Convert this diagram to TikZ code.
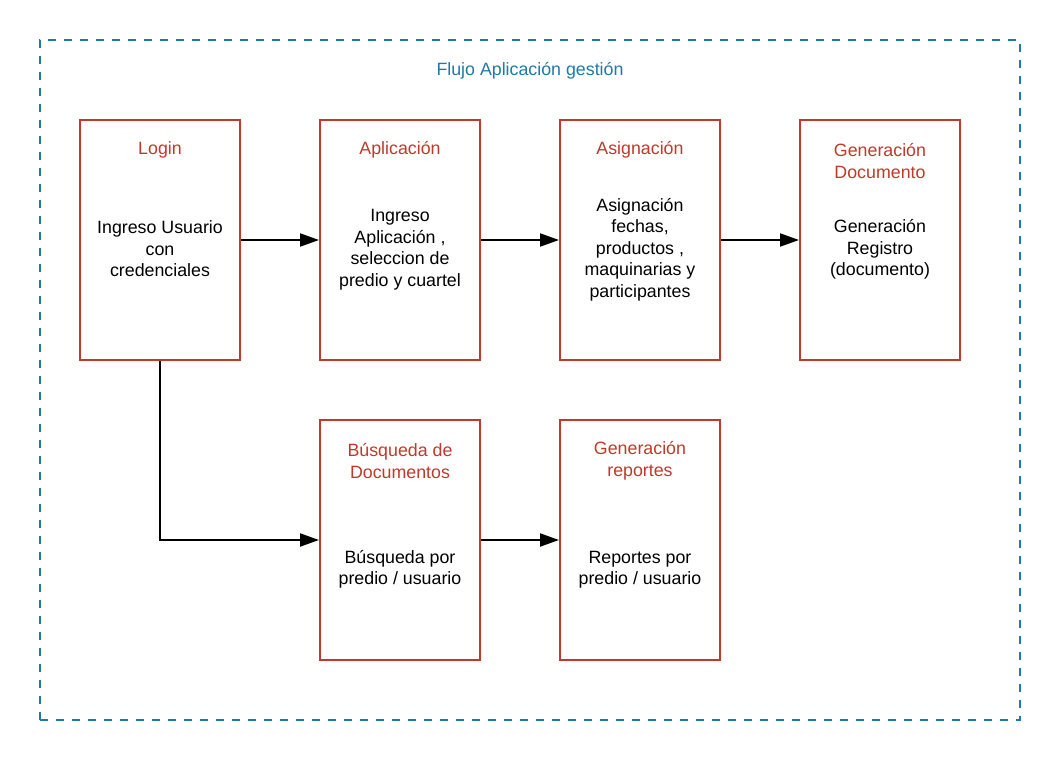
\documentclass[tikz,border=0pt]{standalone}
\usepackage{fontspec}
\setmainfont{Liberation Sans}
\usetikzlibrary{arrows.meta}
\definecolor{boxred}{HTML}{C0392B}
\definecolor{frameblue}{HTML}{1F7AA8}
\tikzset{
  stepbox/.style={draw=boxred, line width=2pt, minimum width=160pt, minimum height=240pt, inner sep=0pt},
  ttl/.style={text=boxred, align=center, font=\fontsize{17.8}{21.5}\selectfont},
  bdy/.style={text=black, align=center, font=\fontsize{17.8}{21.5}\selectfont},
  conn/.style={line width=2pt, -{Triangle[length=19pt,width=13pt]}},
}
\begin{document}
\begin{tikzpicture}[x=1pt,y=-1pt]
\useasboundingbox (0,0) rectangle (1060,760);
\fill[white] (0,0) rectangle (1060,760);
\node[draw=frameblue, line width=2pt, dash pattern=on 8pt off 8pt, minimum width=980pt, minimum height=680pt, inner sep=0pt] (frame) at (530,380) {};
\node[text=frameblue, font=\fontsize{17.8}{21.5}\selectfont] (title) at (530,71) {Flujo Aplicación gestión};

\node[stepbox] (login) at (160,240) {};
\node[stepbox] (apl) at (400,240) {};
\node[stepbox] (asig) at (640,240) {};
\node[stepbox] (gen) at (880,240) {};
\node[stepbox] (busq) at (400,540) {};
\node[stepbox] (rep) at (640,540) {};

\node[ttl] (loginT) at (160,150) {Login};
\node[bdy] (loginB) at (160,249) {Ingreso Usuario\\con\\credenciales};
\node[ttl] (aplT) at (400,150) {Aplicación};
\node[bdy] (aplB) at (400,249.5) {Ingreso\\Aplicación ,\\seleccion de\\predio y cuartel};
\node[ttl] (asigT) at (640,150) {Asignación};
\node[bdy] (asigB) at (640,249.5) {Asignación\\fechas,\\productos ,\\maquinarias y\\participantes};
\node[ttl] (genT) at (880,161) {Generación\\Documento};
\node[bdy] (genB) at (880,249.5) {Generación\\Registro\\(documento)};
\node[ttl] (busqT) at (400,461) {Búsqueda de\\Documentos};
\node[bdy] (busqB) at (400,569.5) {Búsqueda por\\predio / usuario};
\node[ttl] (repT) at (640,461) {Generación\\reportes};
\node[bdy] (repB) at (640,569.5) {Reportes por\\predio / usuario};

\draw[conn] (login.east) -- (apl.west);
\draw[conn] (apl.east) -- (asig.west);
\draw[conn] (asig.east) -- (gen.west);
\draw[conn] (login.south) |- (busq.west);
\draw[conn] (busq.east) -- (rep.west);
\end{tikzpicture}
\end{document}
